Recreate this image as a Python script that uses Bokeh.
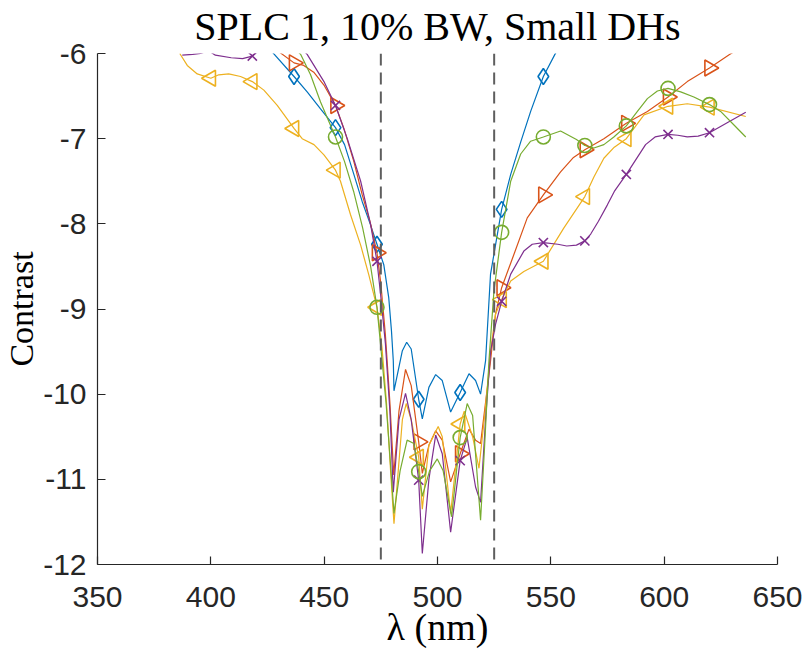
import numpy as np
from bokeh.plotting import figure
from bokeh.models import Range1d, FixedTicker, Span
from bokeh.embed import file_html
from bokeh.resources import INLINE

# Wavelengths (nm) at which every configuration carries a marker
marker_wl = [400.0, 418.3, 436.7, 455.0, 473.3, 491.7, 510.0, 528.3,
             546.7, 565.0, 583.3, 601.7, 620.0]

# Contrast (log10) at the marker wavelengths
blue_marks   = [-5.20, -5.72, -6.27, -6.87, -8.24, -10.06, -9.98, -7.83, -6.27, -5.40, -4.80, -4.30, -3.90]
red_marks    = [-5.40, -5.75, -6.11, -6.61, -8.34, -10.56, -10.70, -8.75, -7.66, -7.13, -6.82, -6.51, -6.17]
yellow_marks = [-6.29, -6.33, -6.88, -7.37, -8.98, -10.74, -10.35, -8.89, -8.44, -7.68, -7.00, -6.62, -6.63]
purple_marks = [-5.985, -6.03, -5.85, -6.61, -8.44, -11.01, -10.78, -8.91, -8.22, -8.20, -7.42, -6.95, -6.93]
green_marks  = [-5.00, -5.50, -5.93, -6.98, -8.98, -10.91, -10.51, -8.10, -6.98, -7.08, -6.85, -6.41, -6.60]

# Remaining samples of each contrast curve
blue_wl = [442.5, 448.4, 459.0, 463.1, 466.8, 470.3, 476.3, 478.5, 479.7, 480.5, 480.8,
           484.5, 486.4, 488.4, 493.3, 496.2, 499.2, 502.1, 505.8, 513.9, 516.8, 519.0,
           521.2, 523.4, 532.3, 536.7, 541.1, 551.8]
blue_c = [-6.45, -6.65, -7.07, -7.42, -7.74, -8.00, -8.48, -8.87, -9.26, -9.61, -9.96,
          -9.49, -9.39, -9.47, -10.29, -9.92, -9.77, -9.84, -10.21, -9.76, -9.84, -10.00,
          -9.61, -8.59, -7.42, -7.04, -6.68, -6.01]

red_wl = [441.0, 445.4, 449.9, 458.7, 463.1, 466.8, 470.3, 475.0, 477.0, 479.0, 480.7,
          483.0, 485.9, 488.4, 493.3, 496.2, 499.2, 502.1, 505.8, 513.9, 516.8, 519.0,
          521.2, 523.4, 525.6, 533.7, 539.6, 554.3, 560.0, 573.4, 592.6, 610.2, 629.0, 636.0]
red_c = [-6.14, -6.22, -6.37, -6.88, -7.27, -7.66, -7.98, -8.70, -9.30, -10.10, -10.95,
         -10.20, -9.71, -9.90, -10.93, -10.60, -10.43, -10.54, -11.03, -10.41, -10.54, -10.58,
         -10.10, -9.61, -9.06, -8.36, -7.93, -7.39, -7.22, -7.00, -6.68, -6.33, -6.01, -5.89]

yellow_wl = [386.3, 389.6, 394.0, 403.5, 407.9, 413.1, 423.4, 429.3, 440.3, 445.5, 449.9,
             457.2, 461.6, 466.1, 469.7, 475.5, 477.5, 479.3, 480.8, 484.5, 486.2, 488.4,
             493.3, 496.2, 500.3, 502.1, 505.8, 511.8, 515.5, 518.3, 521.0, 523.4, 525.6,
             532.3, 538.1, 555.7, 569.0, 573.4, 578.0, 591.1, 610.2, 636.0]
yellow_c = [-6.00, -6.14, -6.24, -6.25, -6.24, -6.27, -6.43, -6.61, -7.00, -7.07, -7.19,
            -7.50, -7.89, -8.25, -8.60, -9.45, -10.10, -10.90, -11.52, -10.30, -10.11, -10.30,
            -11.35, -10.60, -10.38, -10.50, -11.40, -10.20, -10.50, -10.87, -10.20, -9.50, -9.06,
            -8.67, -8.56, -8.05, -7.45, -7.23, -7.10, -6.72, -6.59, -6.74]

purple_wl = [387.4, 392.0, 395.5, 397.5, 402.0, 409.0, 414.0, 421.0, 442.5, 449.9, 460.2,
             466.1, 470.5, 474.9, 477.0, 479.0, 480.5, 483.0, 485.9, 488.4, 493.3, 496.2,
             499.2, 502.1, 505.8, 513.1, 516.8, 519.0, 521.2, 523.4, 525.6, 532.3, 538.1,
             541.8, 553.1, 557.0, 561.3, 567.6, 571.0, 574.9, 578.0, 591.8, 596.0, 606.0,
             610.2, 615.0, 628.0, 636.0]
purple_c = [-6.02, -6.01, -6.00, -5.98, -6.02, -6.05, -6.06, -5.97, -6.01, -6.33, -7.00,
            -7.50, -8.01, -8.83, -9.40, -10.20, -11.15, -10.30, -9.99, -10.30, -11.87, -11.00,
            -10.48, -10.70, -11.62, -10.51, -11.09, -11.27, -10.30, -9.50, -9.18, -8.59, -8.32,
            -8.24, -8.24, -8.26, -8.25, -8.12, -7.97, -7.78, -7.62, -7.07, -6.98, -6.96,
            -6.98, -6.97, -6.81, -6.69]

green_wl = [439.6, 444.0, 448.4, 459.0, 463.0, 467.0, 470.5, 475.0, 477.3, 479.2, 480.8,
            483.5, 486.6, 489.6, 493.3, 496.5, 499.9, 502.5, 506.2, 513.1, 515.5, 519.0,
            520.8, 522.7, 524.9, 532.3, 536.7, 541.1, 554.3, 561.3, 569.0, 573.4, 577.8,
            588.2, 592.6, 597.0, 607.3, 613.1, 624.9, 630.8, 636.0]
green_c = [-6.01, -6.25, -6.57, -7.27, -7.62, -8.05, -8.50, -9.45, -10.10, -10.80, -11.40,
           -10.90, -10.54, -10.58, -11.20, -10.90, -10.76, -10.90, -11.44, -10.11, -10.25, -11.48,
           -10.60, -9.61, -8.79, -7.50, -7.18, -7.03, -6.91, -7.01, -7.11, -7.07, -6.98,
           -6.68, -6.53, -6.44, -6.45, -6.51, -6.68, -6.84, -6.98]

# Edges of the 10% band around 500 nm
band_edges = [475.0, 525.0]

x_ticks = [350, 400, 450, 500, 550, 600, 650]
y_ticks = [-12, -11, -10, -9, -8, -7, -6]

series = [
    ("#0072BD", "diamond", 0.0, 16, blue_marks, blue_wl, blue_c),
    ("#D95319", "triangle", -np.pi / 2, 16, red_marks, red_wl, red_c),
    ("#EDB120", "triangle", np.pi / 2, 16, yellow_marks, yellow_wl, yellow_c),
    ("#7E2F8E", "x", 0.0, 13, purple_marks, purple_wl, purple_c),
    ("#77AC30", "circle", 0.0, 14, green_marks, green_wl, green_c),
]

SANS = "Liberation Sans"
SERIF = "Liberation Serif"
AX = "#262626"

p = figure(width=805, height=659, x_range=Range1d(350, 650), y_range=Range1d(-12, -6),
           output_backend="svg", toolbar_location=None,
           min_border_left=97, min_border_right=28, min_border_top=51, min_border_bottom=95,
           title="SPLC 1, 10% BW, Small DHs")

p.title.text_font = SERIF
p.title.text_font_size = "40px"
p.title.text_font_style = "normal"
p.title.text_color = "#000000"
p.title.align = "center"
p.title.vertical_align = "top"
p.title.standoff = 6

p.background_fill_color = "white"
p.border_fill_color = "white"
p.outline_line_color = None
p.grid.grid_line_color = None

for edge in band_edges:
    p.add_layout(Span(location=edge, dimension="height", line_color="#5e5e5e",
                      line_width=2, line_dash="12 7"))

for color, marker, angle, size, marks, wl, c in series:
    xs = np.array(marker_wl + wl)
    ys = np.array(marks + c)
    order = np.argsort(xs)
    p.line(xs[order], ys[order], line_color=color, line_width=1.2)
    mx = np.array(marker_wl)
    my = np.array(marks)
    inside = my <= -6.0
    p.scatter(mx[inside], my[inside], marker=marker, angle=angle, size=size,
              fill_color=None, line_color=color, line_width=1.6)

p.xaxis.ticker = FixedTicker(ticks=x_ticks)
p.yaxis.ticker = FixedTicker(ticks=y_ticks)
p.yaxis.major_label_overrides = {t: str(t) for t in y_ticks}
p.xaxis.major_label_overrides = {t: str(t) for t in x_ticks}

for ax in (p.xaxis[0], p.yaxis[0]):
    ax.axis_line_color = AX
    ax.axis_line_width = 1.2
    ax.major_tick_line_color = AX
    ax.major_tick_line_width = 1.2
    ax.major_tick_in = 8
    ax.major_tick_out = 0
    ax.minor_tick_line_color = None
    ax.major_label_text_font = SANS
    ax.major_label_text_font_size = "30px"
    ax.major_label_text_color = AX
    ax.axis_label_text_font = SERIF
    ax.axis_label_text_font_style = "normal"
    ax.axis_label_text_color = "#000000"

p.xaxis.axis_label = "λ (nm)"
p.xaxis.axis_label_text_font_size = "38px"
p.xaxis.major_label_standoff = 22
p.xaxis.axis_label_standoff = -4
p.yaxis.axis_label = "Contrast"
p.yaxis.axis_label_text_font_size = "34px"
p.yaxis.major_label_standoff = 11
p.yaxis.axis_label_standoff = 0

open("out.html", "w").write(file_html(p, INLINE))
